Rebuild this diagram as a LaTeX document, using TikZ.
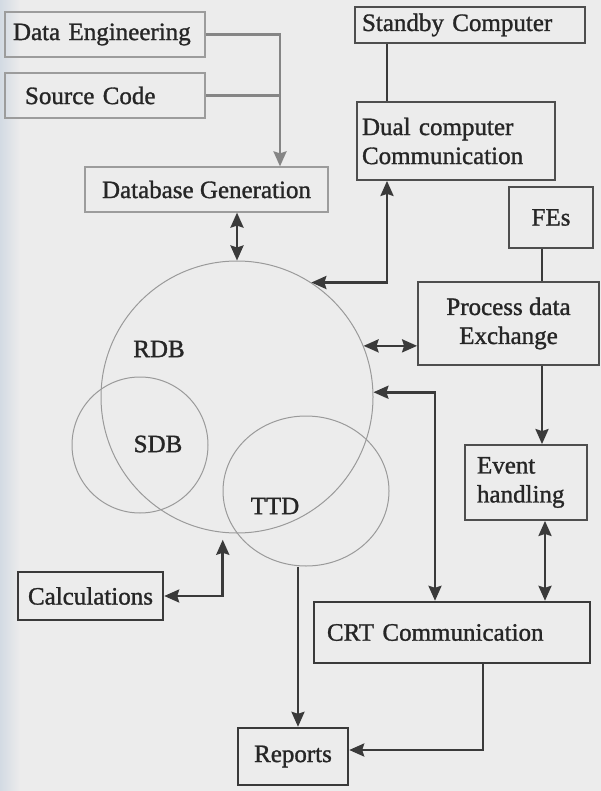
\documentclass[tikz,border=0pt]{standalone}
\usepackage{fontspec}
\newfontfamily\diagfont{Liberation Serif}[FakeBold=1.2]
\usetikzlibrary{arrows.meta,shapes.geometric,calc}
\definecolor{bgc}{HTML}{ECECEC}
\definecolor{bgblue}{HTML}{D3DAE3}
\definecolor{txtc}{HTML}{262626}
\definecolor{bdrc}{HTML}{4E4E4E}
\definecolor{lbdrc}{HTML}{9C9C9C}
\definecolor{conc}{HTML}{3A3A3A}
\definecolor{lconc}{HTML}{858585}
\definecolor{circc}{HTML}{9A9A9A}
\begin{document}
\begin{tikzpicture}[x=1pt,y=-1pt,
  every node/.style={font=\diagfont\fontsize{25}{29}\selectfont, text=txtc},
  box/.style={draw=bdrc, line width=1.8pt, inner ysep=0pt},
  lightbox/.style={draw=lbdrc, line width=1.2pt, inner ysep=0pt},
  heavybox/.style={draw=conc, line width=2.4pt, inner ysep=0pt},
  conn/.style={draw=conc, line width=2.6pt},
  lconn/.style={draw=lconc, line width=2.6pt},
  circ/.style={draw=circc, line width=1pt, circle, inner sep=0pt},
  lbl/.style={inner sep=0pt},
  >={Stealth[length=15pt,width=13pt,inset=2pt]}
]
\useasboundingbox (0,0) rectangle (601,791);
\fill[bgc] (0,0) rectangle (601,791);
\shade[left color=bgblue, right color=bgc] (0,0) rectangle (20,791);

% circles
\node[circ, minimum size=272pt] (rdb) at (237,397) {};
\node[circ, minimum size=136pt] (sdb) at (140,445) {};
\node[draw=circc, line width=1pt, ellipse, inner sep=0pt, minimum width=166pt, minimum height=150pt] (ttd) at (306,491) {};
\node[lbl] (rdbl) at (159,349) {RDB};
\node[lbl] (sdbl) at (158,444) {SDB};
\node[lbl] (ttdl) at (275,506) {TTD};

% boxes
\node[lightbox, text width=184pt, inner xsep=8pt, minimum height=45pt, align=left] (de) at (105,34.5) {Data Engineering};
\node[lightbox, text width=160pt, inner xsep=20pt, minimum height=45pt, align=left] (sc) at (105,95.5) {Source Code};
\node[lightbox, minimum width=243pt, minimum height=45pt] (dbg) at (206.5,189.5) {Database Generation};
\node[box, text width=216pt, inner xsep=7pt, minimum height=36pt, align=left] (stb) at (470,25) {Standby Computer};
\node[box, text width=188pt, inner xsep=5pt, minimum height=78pt, align=left] (dcc) at (456,141) {Dual computer\\Communication};
\node[box, minimum width=84pt, minimum height=61pt] (fes) at (551,217.5) {FEs};
\node[box, minimum width=181pt, minimum height=83pt, align=center] (pde) at (508.5,323.5) {Process data\\Exchange};
\node[box, text width=98pt, inner xsep=12pt, minimum height=75pt, align=left] (evh) at (526,482.5) {Event\\handling};
\node[heavybox, text width=250pt, inner xsep=13pt, minimum height=61pt, align=left] (crt) at (452,632.5) {CRT Communication};
\node[heavybox, minimum width=145pt, minimum height=48pt] (calc) at (90.5,596) {Calculations};
\node[heavybox, minimum width=110pt, minimum height=57pt] (rep) at (293,756.5) {Reports};

% helper coordinates
\coordinate (dbgin) at ([xshift=73.5pt]dbg.north);
\coordinate (dbgout) at ([xshift=30.5pt]dbg.south);
\coordinate (dccin) at ([xshift=-69pt]dcc.south);
\coordinate (stbout) at ([xshift=-83pt]stb.south);
\coordinate (fesout) at ([xshift=-9pt]fes.south);
\coordinate (pdeout) at ([xshift=33.5pt]pde.south);
\coordinate (evhout) at ([xshift=19pt]evh.south);
\coordinate (crtin) at ([xshift=-17pt]crt.north);
\coordinate (crtout) at ([xshift=31pt]crt.south);
\coordinate (repin) at ([xshift=5pt]rep.north);
\coordinate (repright) at ([yshift=6.5pt]rep.east);
\coordinate (calcin) at ([yshift=-7pt]rdb.264);

% connectors
\draw[lconn,->] (de.east) -| (dbgin);
\draw[lconn] (sc.east) -- (sc.east -| dbgin);
\draw[conn,<->] (dbgout) -- (rdb.north);
\draw[conn] (stbout) -- (stbout |- dcc.north);
\draw[conn,<->] (dccin) |- (rdb.57.7);
\draw[conn] (fesout) -- (fesout |- pde.north);
\draw[conn,<->] (rdb.22.5) -- (rdb.22.5 -| pde.west);
\draw[conn,->] (pdeout) -- (pdeout |- evh.north);
\draw[conn,<->] (evhout) -- (evhout |- crt.north);
\draw[conn,<->] (rdb.2.1) -| (crtin);
\draw[conn,->] (repin |- ttd.south) -- (repin);
\draw[conn,->] (crtout) |- (repright);
\draw[conn,<->] (calc.east) -| (calcin);
\end{tikzpicture}
\end{document}
